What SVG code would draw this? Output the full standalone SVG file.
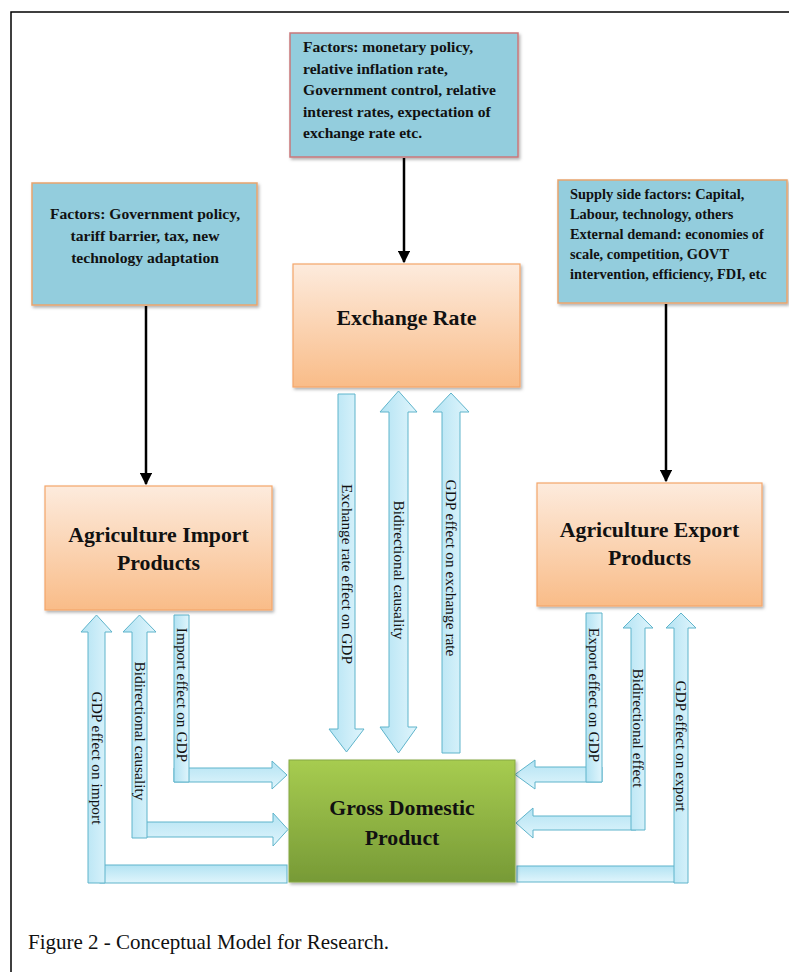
<svg xmlns="http://www.w3.org/2000/svg" width="789" height="972" viewBox="0 0 789 972">
<style>
  text { font-family: "Liberation Serif", "Times New Roman", serif; fill: #111; }
  .fac { font-size: 15.6px; font-weight: bold; }
  .fac2 { font-size: 14.4px; font-weight: bold; }
  .big { font-size: 21.8px; font-weight: bold; }
  .lbl { font-size: 15.4px; }
  .cap { font-size: 21px; }
  .blue { fill: #93CDDD; }
  .org { fill: url(#gOrange); stroke: #F4A66A; stroke-width: 1.2; }
  .blk { fill: url(#gBlue); stroke: #5FB4CB; stroke-width: 1; }
  .blkh { fill: url(#gBlueH); stroke: #5FB4CB; stroke-width: 1; }
  .line { stroke: #000; stroke-width: 2.5; fill: none; }
</style>
<defs>
  <linearGradient id="gOrange" x1="0" y1="0" x2="0" y2="1">
    <stop offset="0" stop-color="#FDEBDD"/>
    <stop offset="1" stop-color="#F9BC88"/>
  </linearGradient>
  <linearGradient id="gGreen" x1="0" y1="0" x2="0" y2="1">
    <stop offset="0" stop-color="#A7CC50"/>
    <stop offset="1" stop-color="#779A36"/>
  </linearGradient>
  <linearGradient id="gBlue" x1="0" y1="0" x2="1" y2="0">
    <stop offset="0" stop-color="#B3E3F3"/>
    <stop offset="1" stop-color="#E0F5FC"/>
  </linearGradient>
  <linearGradient id="gBlueH" x1="0" y1="0" x2="0" y2="1">
    <stop offset="0" stop-color="#B3E3F3"/>
    <stop offset="1" stop-color="#E0F5FC"/>
  </linearGradient>
  <filter id="sh" x="-10%" y="-10%" width="120%" height="120%">
    <feDropShadow dx="1.5" dy="2" stdDeviation="1.5" flood-color="#000" flood-opacity="0.3"/>
  </filter>
  <marker id="ah" viewBox="0 0 10 10" refX="9" refY="5" markerWidth="5" markerHeight="5" orient="auto" markerUnits="strokeWidth">
    <path d="M0,0 L10,5 L0,10 Z" fill="#000"/>
  </marker>
</defs>
<rect x="0" y="0" width="789" height="972" fill="#fff"/>
<path d="M11,972 V12 H789" fill="none" stroke="#000" stroke-width="1.5"/>

<g id="connectors">
  <line class="line" x1="404" y1="158" x2="404" y2="262" marker-end="url(#ah)"/>
  <line class="line" x1="146" y1="306" x2="146" y2="484" marker-end="url(#ah)"/>
  <line class="line" x1="666" y1="304" x2="666" y2="481" marker-end="url(#ah)"/>

  <g id="arrow-er-gdp">
    <path class="blk" d="M338,394 H355 V729 H364 L346.5,752 L329,729 H338 Z"/>
    <text class="lbl" transform="translate(346.5,574) rotate(90)" x="0" y="5" text-anchor="middle">Exchange rate effect on GDP</text>
  </g>
  <g id="arrow-er-bi">
    <path class="blk" d="M398.5,391 L417,412 H408 V727 H417 L398.5,753 L380,727 H389 V412 H380 Z"/>
    <text class="lbl" transform="translate(398.5,570) rotate(90)" x="0" y="5" text-anchor="middle">Bidirectional causality</text>
  </g>
  <g id="arrow-gdp-er">
    <path class="blk" d="M451,393 L469,412 H460 V753 H442 V412 H433 Z"/>
    <text class="lbl" transform="translate(451,568) rotate(90)" x="0" y="5" text-anchor="middle">GDP effect on exchange rate</text>
  </g>

  <g id="arrow-gdp-import">
    <rect class="blkh" x="100" y="865" width="187" height="18"/>
    <path class="blk" d="M96.5,615 L112,632 H105 V883 H88 V632 H81 Z"/>
    <text class="lbl" transform="translate(96.5,758) rotate(90)" x="0" y="5" text-anchor="middle">GDP effect on import</text>
  </g>
  <g id="arrow-import-bi">
    <path class="blkh" d="M142,822 H273 V813 L288,829.5 L273,846 V837 H142 Z"/>
    <path class="blk" d="M139.5,615 L156,632 H147 V838 H132 V632 H123 Z"/>
    <text class="lbl" transform="translate(139.5,731) rotate(90)" x="0" y="5" text-anchor="middle">Bidirectional causality</text>
  </g>
  <g id="arrow-import-gdp">
    <path class="blkh" d="M174,768 H272 V761 L287,775 L272,789 V782 H174 Z"/>
    <path class="blk" d="M174,615 H189 V782 H174 Z"/>
    <text class="lbl" transform="translate(181.5,695) rotate(90)" x="0" y="5" text-anchor="middle">Import effect on GDP</text>
  </g>

  <g id="arrow-export-gdp">
    <path class="blkh" d="M602,767 H535 V760 L515,774.5 L535,789 V782 H602 Z"/>
    <path class="blk" d="M586,613 H602 V782 H586 Z"/>
    <text class="lbl" transform="translate(594,695) rotate(90)" x="0" y="5" text-anchor="middle">Export effect on GDP</text>
  </g>
  <g id="arrow-export-bi">
    <path class="blkh" d="M636,816 H533 V808 L516,823 L533,838 V830 H636 Z"/>
    <path class="blk" d="M638,613 L653,628 H645 V830 H631 V628 H623 Z"/>
    <text class="lbl" transform="translate(638,728) rotate(90)" x="0" y="5" text-anchor="middle">Bidirectional effect</text>
  </g>
  <g id="arrow-gdp-export">
    <rect class="blkh" x="517" y="866" width="162" height="16"/>
    <path class="blk" d="M681,613 L696,628 H688 V883 H674 V628 H666 Z"/>
    <text class="lbl" transform="translate(681,746) rotate(90)" x="0" y="5" text-anchor="middle">GDP effect on export</text>
  </g>
</g>

<g id="factors-exchange">
  <rect class="blue" x="290" y="33" width="228" height="124" stroke="#C9777A" stroke-width="1.5" filter="url(#sh)"/>
  <text class="fac" x="303" y="52">Factors: monetary policy,</text>
  <text class="fac" x="303" y="73.5">relative inflation rate,</text>
  <text class="fac" x="303" y="95">Government control, relative</text>
  <text class="fac" x="303" y="116.5">interest rates, expectation of</text>
  <text class="fac" x="303" y="138">exchange rate etc.</text>
</g>

<g id="factors-import">
  <rect class="blue" x="32" y="183" width="225" height="122" stroke="#E9A46E" stroke-width="1.5" filter="url(#sh)"/>
  <text class="fac" x="145" y="219" text-anchor="middle">Factors: Government policy,</text>
  <text class="fac" x="145" y="241" text-anchor="middle">tariff barrier, tax, new</text>
  <text class="fac" x="145" y="263" text-anchor="middle">technology adaptation</text>
</g>

<g id="factors-export">
  <rect class="blue" x="558" y="180" width="229" height="123" stroke="#E9A46E" stroke-width="1.5" filter="url(#sh)"/>
  <text class="fac2" x="570" y="199">Supply side factors: Capital,</text>
  <text class="fac2" x="570" y="219">Labour, technology, others</text>
  <text class="fac2" x="570" y="239">External demand: economies of</text>
  <text class="fac2" x="570" y="259">scale, competition, GOVT</text>
  <text class="fac2" x="570" y="279">intervention, efficiency, FDI, etc</text>
</g>

<g id="exchange-rate">
  <rect class="org" x="293" y="264" width="227" height="123" filter="url(#sh)"/>
  <text class="big" x="406.5" y="325" text-anchor="middle">Exchange Rate</text>
</g>

<g id="agri-import">
  <rect class="org" x="45" y="486" width="227" height="124" filter="url(#sh)"/>
  <text class="big" x="158.5" y="542" text-anchor="middle">Agriculture Import</text>
  <text class="big" x="158.5" y="570" text-anchor="middle">Products</text>
</g>

<g id="agri-export">
  <rect class="org" x="537" y="483" width="225" height="123" filter="url(#sh)"/>
  <text class="big" x="649.5" y="537" text-anchor="middle">Agriculture Export</text>
  <text class="big" x="649.5" y="565" text-anchor="middle">Products</text>
</g>

<g id="gdp">
  <rect x="289" y="760" width="226" height="122" fill="url(#gGreen)" stroke="#86A845" stroke-width="1" filter="url(#sh)"/>
  <text class="big" x="402" y="815" text-anchor="middle">Gross Domestic</text>
  <text class="big" x="402" y="845" text-anchor="middle">Product</text>
</g>

<text class="cap" x="28" y="949">Figure 2 - Conceptual Model for Research.</text>
</svg>
